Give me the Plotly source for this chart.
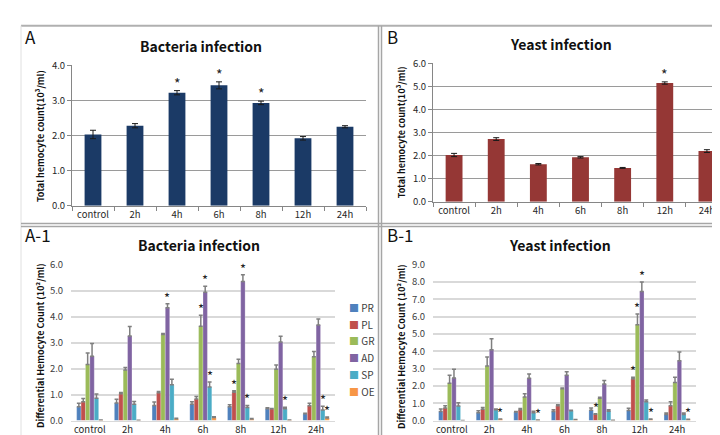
import plotly.graph_objects as go

# ---------------- data ----------------
categories = ["control", "2h", "4h", "6h", "8h", "12h", "24h"]

# Panel A: total hemocyte count, bacteria infection (10^3/ml)
bact_total = [2.03, 2.28, 3.22, 3.43, 2.93, 1.92, 2.25]
bact_total_err = [0.12, 0.06, 0.06, 0.10, 0.05, 0.05, 0.03]
bact_total_star = [0, 0, 1, 1, 1, 0, 0]

# Panel B: total hemocyte count, yeast infection (10^3/ml)
yeast_total = [2.03, 2.72, 1.63, 1.93, 1.47, 5.15, 2.20]
yeast_total_err = [0.07, 0.06, 0.03, 0.03, 0.02, 0.05, 0.06]
yeast_total_star = [0, 0, 0, 0, 0, 1, 0]

series_names = ["PR", "PL", "GR", "AD", "SP", "OE"]
series_colors = ["#4F81BD", "#C0504D", "#9BBB59", "#8064A2", "#4BACC6", "#F79646"]

# Panel A-1: differential hemocyte count, bacteria infection (10^2/ml)
bact_pr = [0.53, 0.68, 0.58, 0.63, 0.53, 0.45, 0.26]
bact_pl = [0.72, 1.03, 1.07, 0.83, 1.09, 0.45, 0.57]
bact_gr = [2.16, 1.95, 3.31, 3.63, 2.20, 1.98, 2.46]
bact_ad = [2.48, 3.26, 4.34, 4.94, 5.35, 3.02, 3.68]
bact_sp = [0.86, 0.63, 1.38, 1.29, 0.50, 0.45, 0.41]
bact_oe = [0.02, 0.01, 0.07, 0.12, 0.06, 0.02, 0.10]
bact_pr_err = [0.14, 0.14, 0.13, 0.09, 0.08, 0.04, 0.02]
bact_pl_err = [0.13, 0.05, 0.05, 0.10, 0.06, 0.01, 0.10]
bact_gr_err = [0.44, 0.09, 0.04, 0.42, 0.16, 0.16, 0.20]
bact_ad_err = [0.49, 0.36, 0.16, 0.23, 0.26, 0.23, 0.23]
bact_sp_err = [0.16, 0.10, 0.21, 0.19, 0.08, 0.06, 0.14]
bact_oe_err = [0.00, 0.00, 0.02, 0.03, 0.02, 0.00, 0.04]
bact_pr_star = [0, 0, 0, 0, 0, 0, 0]
bact_pl_star = [0, 0, 0, 0, 1, 0, 0]
bact_gr_star = [0, 0, 0, 1, 0, 0, 0]
bact_ad_star = [0, 0, 1, 1, 1, 0, 0]
bact_sp_star = [0, 0, 0, 1, 1, 1, 1]
bact_oe_star = [0, 0, 0, 0, 0, 0, 1]

# Panel B-1: differential hemocyte count, yeast infection (10^2/ml)
yeast_pr = [0.52, 0.45, 0.49, 0.52, 0.60, 0.58, 0.35]
yeast_pl = [0.73, 0.65, 0.63, 0.86, 0.37, 2.41, 0.86]
yeast_gr = [2.15, 3.15, 1.36, 1.83, 1.29, 5.54, 2.20]
yeast_ad = [2.46, 4.09, 2.44, 2.61, 2.11, 7.46, 3.45]
yeast_sp = [0.84, 0.62, 0.45, 0.56, 0.54, 1.08, 0.35]
yeast_oe = [0.01, 0.09, 0.03, 0.06, 0.02, 0.08, 0.06]
yeast_pr_err = [0.15, 0.11, 0.03, 0.11, 0.13, 0.13, 0.08]
yeast_pl_err = [0.13, 0.10, 0.07, 0.05, 0.02, 0.09, 0.22]
yeast_gr_err = [0.46, 0.52, 0.19, 0.05, 0.05, 0.62, 0.30]
yeast_ad_err = [0.51, 0.63, 0.25, 0.21, 0.20, 0.54, 0.51]
yeast_sp_err = [0.19, 0.04, 0.09, 0.04, 0.09, 0.10, 0.08]
yeast_oe_err = [0.00, 0.00, 0.00, 0.00, 0.00, 0.01, 0.01]
yeast_pr_star = [0, 0, 0, 0, 0, 0, 0]
yeast_pl_star = [0, 0, 0, 0, 1, 1, 0]
yeast_gr_star = [0, 0, 0, 0, 0, 1, 0]
yeast_ad_star = [0, 0, 0, 0, 0, 1, 0]
yeast_sp_star = [0, 0, 0, 0, 0, 0, 0]
yeast_oe_star = [0, 1, 1, 0, 0, 1, 1]

bact_vals = [bact_pr, bact_pl, bact_gr, bact_ad, bact_sp, bact_oe]
bact_errs = [bact_pr_err, bact_pl_err, bact_gr_err, bact_ad_err, bact_sp_err, bact_oe_err]
bact_stars = [bact_pr_star, bact_pl_star, bact_gr_star, bact_ad_star, bact_sp_star, bact_oe_star]
yeast_vals = [yeast_pr, yeast_pl, yeast_gr, yeast_ad, yeast_sp, yeast_oe]
yeast_errs = [yeast_pr_err, yeast_pl_err, yeast_gr_err, yeast_ad_err, yeast_sp_err, yeast_oe_err]
yeast_stars = [yeast_pr_star, yeast_pl_star, yeast_gr_star, yeast_ad_star, yeast_sp_star, yeast_oe_star]

# ---------------- layout helpers ----------------
W, H = 720, 435
FONT = "Noto Sans CJK KR"


def px_x(p):
    return p / W


def px_y(p):
    return 1 - p / H


fig = go.Figure()
annotations = []
shapes = []

# ---- Panel A & B (single bars) ----
single_w = 0.4
for ax, vals, errs, stars, color in [
    ("", bact_total, bact_total_err, bact_total_star, "#1B3A66"),
    ("2", yeast_total, yeast_total_err, yeast_total_star, "#953735"),
]:
    fig.add_trace(go.Bar(
        x=categories, y=vals, width=single_w, offset=-single_w / 2,
        marker=dict(color=color, line=dict(width=0)),
        error_y=dict(type="data", array=errs, symmetric=True,
                     color="#1a1a1a", thickness=1, width=3),
        xaxis="x" + ax, yaxis="y" + ax, showlegend=False,
    ))
    for i, s in enumerate(stars):
        if s:
            annotations.append(dict(
                x=i, y=vals[i] + errs[i], xref="x" + ax, yref="y" + ax,
                text="*", showarrow=False, yanchor="bottom", yshift=-4,
                font=dict(family=FONT, size=14, color="#222")))

# ---- Panel A-1 & B-1 (grouped bars) ----
group_w = 0.7
n = len(series_names)
bw = group_w / n
for ax, vals_list, errs_list, stars_list in [
    ("3", bact_vals, bact_errs, bact_stars),
    ("4", yeast_vals, yeast_errs, yeast_stars),
]:
    for k in range(n):
        off = -group_w / 2 + k * bw
        fig.add_trace(go.Bar(
            x=categories, y=vals_list[k], width=bw, offset=off,
            name=series_names[k],
            marker=dict(color=series_colors[k], line=dict(width=0.4, color="rgba(255,255,255,0.6)")),
            error_y=dict(type="data", array=errs_list[k], arrayminus=[0] * len(categories),
                         symmetric=False, color="#7F7F7F", thickness=1.5, width=2),
            xaxis="x" + ax, yaxis="y" + ax, showlegend=False,
        ))
        for i, s in enumerate(stars_list[k]):
            if s:
                annotations.append(dict(
                    x=i + off + bw / 2, y=vals_list[k][i] + errs_list[k][i],
                    xref="x" + ax, yref="y" + ax,
                    text="*", showarrow=False, yanchor="bottom", yshift=-5,
                    font=dict(family=FONT, size=13, color="#222")))

# ---- legends (A-1 and B-1), built from series names/colors ----
for lx in [342, 705]:
    for k in range(n):
        annotations.append(dict(
            x=px_x(lx - 3), y=px_y(301 + k * 17.4), xref="paper", yref="paper",
            xanchor="left", yanchor="middle", showarrow=False,
            text='<span style="color:%s">■</span> %s' % (series_colors[k], series_names[k]),
            font=dict(family=FONT, size=10, color="#404040")))

# ---- titles, panel labels, axis titles ----
for txt, cx, cy in [("Bacteria infection", 193, 31), ("Yeast infection", 553, 29),
                    ("Bacteria infection", 191, 237), ("Yeast infection", 552, 237)]:
    annotations.append(dict(x=px_x(cx), y=px_y(cy), xref="paper", yref="paper",
                            text="<b>%s</b>" % txt, showarrow=False,
                            xanchor="center", yanchor="middle",
                            font=dict(family=FONT, size=14, color="#111")))
for txt, lx, cy in [("A", 15, 21), ("B", 377, 21), ("A-1", 15, 226), ("B-1", 377, 226)]:
    annotations.append(dict(x=px_x(lx), y=px_y(cy), xref="paper", yref="paper",
                            text=txt, showarrow=False, xanchor="left", yanchor="middle",
                            font=dict(family=FONT, size=17, color="#111")))
for txt, cx, cy in [("Total hemocyte count(10³/ml)", 32, 124),
                    ("Total hemocyte count(10³/ml)", 393, 120),
                    ("Differential Hemocyte Count (10²/ml)", 32, 341),
                    ("Differential Hemocyte Count (10²/ml)", 393, 341)]:
    annotations.append(dict(x=px_x(cx), y=px_y(cy), xref="paper", yref="paper",
                            text="<b>%s</b>" % txt, showarrow=False, textangle=-90,
                            xanchor="center", yanchor="middle",
                            font=dict(family=FONT, size=9, color="#111")))

# ---- panel frame lines ----
frame = "#A6A6A6"
shapes += [
    dict(type="line", xref="paper", yref="paper", x0=px_x(13), x1=1, y0=px_y(10), y1=px_y(10),
         line=dict(color="#B0B0B0", width=2)),
    dict(type="line", xref="paper", yref="paper", x0=px_x(13), x1=px_x(13), y0=px_y(10), y1=0,
         line=dict(color="#E0E0E0", width=1)),
    dict(type="line", xref="paper", yref="paper", x0=px_x(370.5), x1=px_x(370.5), y0=px_y(10), y1=0,
         line=dict(color=frame, width=1.5)),
    dict(type="line", xref="paper", yref="paper", x0=px_x(373.5), x1=px_x(373.5), y0=px_y(10), y1=0,
         line=dict(color=frame, width=1.5)),
    dict(type="line", xref="paper", yref="paper", x0=px_x(13), x1=1, y0=px_y(214.5), y1=px_y(214.5),
         line=dict(color=frame, width=1.5)),
    dict(type="line", xref="paper", yref="paper", x0=px_x(13), x1=1, y0=px_y(217.5), y1=px_y(217.5),
         line=dict(color=frame, width=1.5)),
]

tickfont = dict(family=FONT, size=9.5, color="#262626")
tickfont_light = dict(family=FONT, size=9.5, color="#404040")

top_x = dict(type="category", range=[-0.5, 6.5], showline=True, linecolor="#868686",
             ticks="outside", tickson="boundaries", ticklen=4, tickcolor="#868686",
             tickfont=tickfont, tickangle=0, showgrid=False)
top_y = dict(dtick=1, tickformat=".1f", showgrid=True, gridcolor="#9A9A9A", gridwidth=1,
             showline=True, linecolor="#868686", ticks="outside", ticklen=4,
             tickcolor="#868686", zeroline=False, tickfont=tickfont)
bot_x = dict(type="category", range=[-0.5, 6.5], showline=True, linecolor="#D9D9D9",
             linewidth=1, ticks="", tickangle=0,
             tickfont=tickfont, showgrid=False)
bot_y = dict(dtick=1, tickformat=".1f", showgrid=True, gridcolor="#D9D9D9", gridwidth=1.5,
             showline=False, ticks="outside", ticklen=5, tickcolor="rgba(0,0,0,0)",
             zeroline=False, tickfont=tickfont_light)

fig.update_layout(
    width=W, height=H, margin=dict(l=0, r=0, t=0, b=0),
    paper_bgcolor="white", plot_bgcolor="white",
    barmode="overlay", showlegend=False,
    font=dict(family=FONT),
    xaxis=dict(top_x, domain=[px_x(64), px_x(358)], anchor="y"),
    yaxis=dict(top_y, domain=[px_y(196), px_y(51)], range=[0, 4], anchor="x"),
    xaxis2=dict(top_x, domain=[px_x(425), px_x(720)], anchor="y2"),
    yaxis2=dict(top_y, domain=[px_y(192), px_y(49)], range=[0, 6], anchor="x2"),
    xaxis3=dict(bot_x, domain=[px_x(63), px_x(327)], anchor="y3"),
    yaxis3=dict(bot_y, domain=[px_y(418), px_y(257)], range=[0, 6], anchor="x3"),
    xaxis4=dict(bot_x, domain=[px_x(425), px_x(688)], anchor="y4"),
    yaxis4=dict(bot_y, domain=[px_y(418), px_y(257)], range=[0, 9], anchor="x4"),
    annotations=annotations, shapes=shapes,
)

fig.write_html("out.html")
